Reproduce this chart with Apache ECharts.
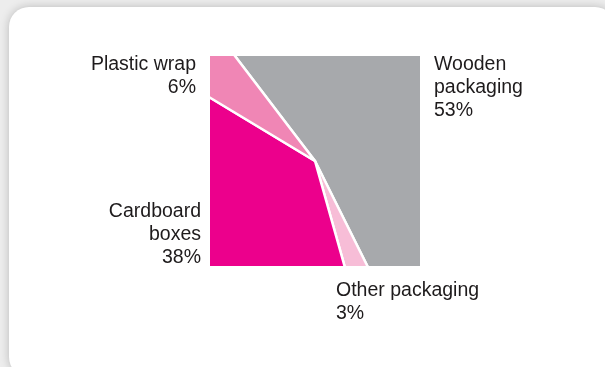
<!DOCTYPE html>
<html>
<head>
<meta charset="utf-8">
<script src="https://cdn.jsdelivr.net/npm/echarts@6/dist/echarts.min.js"></script>
<style>
  html, body { margin: 0; padding: 0; background: #ededed; }
  #chart { width: 605px; height: 367px; }
</style>
</head>
<body>
<div id="chart"></div>
<script>
// Packaging waste by type, shares in percent
const categories = ['Wooden packaging', 'Other packaging', 'Cardboard boxes', 'Plastic wrap'];
const shares = [53, 3, 38, 6];
const labelNames = ['Wooden\npackaging', 'Other packaging', 'Cardboard\nboxes', 'Plastic wrap'];
const colors = ['#a7a9ac', '#f7bdd7', '#ec008c', '#f086b5'];

// Layout of the card, the square pie and its labels
const card = { x: 9, y: 7, width: 606, height: 370, r: 20 };
const square = { x: 210, y: 56, size: 210 };
const cx = square.x + square.size / 2;
const cy = square.y + square.size / 2;
const labelPlaces = [
  { x: 434, y: 53, align: 'left' },
  { x: 336, y: 279, align: 'left' },
  { x: 201, y: 200, align: 'right' },
  { x: 196, y: 53, align: 'right' }
];

const chart = echarts.init(document.getElementById('chart'), null, { renderer: 'canvas' });

// White panels that trim the round pie down to a square (kept inside the card)
const pad = 160;
const maskTop = card.y + 1;
const masks = [
  { x: cx - pad, y: maskTop, width: 2 * pad, height: square.y - maskTop },
  { x: cx - pad, y: square.y + square.size, width: 2 * pad, height: (cy + pad) - (square.y + square.size) },
  { x: cx - pad, y: square.y, width: square.x - (cx - pad), height: square.size },
  { x: square.x + square.size, y: square.y, width: (cx + pad) - (square.x + square.size), height: square.size }
].map(r => ({
  type: 'rect', z: 50, silent: true,
  shape: r,
  style: { fill: '#ffffff' }
}));

const labels = categories.map((c, i) => ({
  type: 'text', z: 60, silent: true,
  x: labelPlaces[i].x, y: labelPlaces[i].y,
  style: {
    text: labelNames[i] + '\n' + shares[i] + '%',
    align: labelPlaces[i].align,
    verticalAlign: 'top',
    fontFamily: 'Liberation Sans, Arial, sans-serif',
    fontSize: 19.5,
    lineHeight: 23,
    fill: '#1e1b1c'
  }
}));

chart.setOption({
  animation: false,
  backgroundColor: '#ededed',
  graphic: [
    {
      type: 'rect', z: -10, silent: true,
      shape: card,
      style: {
        fill: '#ffffff',
        shadowBlur: 10,
        shadowColor: 'rgba(0,0,0,0.22)',
        shadowOffsetX: 0,
        shadowOffsetY: 0
      }
    },
    ...masks,
    ...labels
  ],
  series: [{
    type: 'pie',
    z: 2,
    silent: true,
    center: [cx, cy],
    radius: [0, 150],
    startAngle: 127.3,
    clockwise: true,
    label: { show: false },
    labelLine: { show: false },
    emphasis: { disabled: true },
    itemStyle: { borderColor: '#ffffff', borderWidth: 2.5 },
    data: categories.map((c, i) => ({ name: c, value: shares[i], itemStyle: { color: colors[i] } }))
  }]
});
</script>
</body>
</html>
